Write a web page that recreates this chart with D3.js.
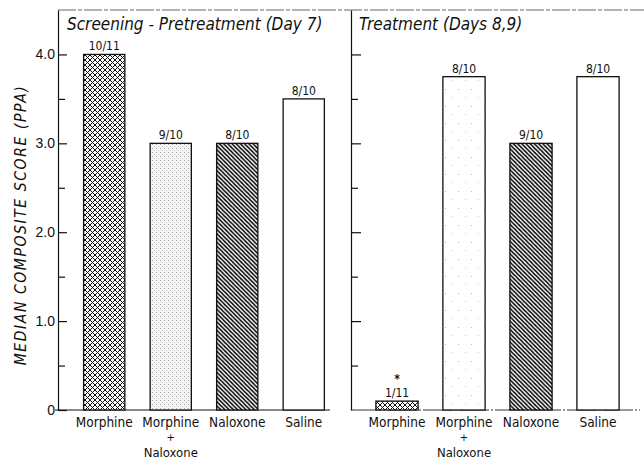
<!DOCTYPE html>
<html>
<head>
<meta charset="utf-8">
<script src="https://cdn.jsdelivr.net/npm/d3@7"></script>
<style>
  body { margin: 0; background: #fff; }
  svg { display: block; font-family: "Liberation Sans Narrow", "DejaVu Sans Condensed", "Liberation Sans", sans-serif; }
  .axis text { font-size: 14px; fill: #111; }
  .axis path, .axis line { stroke: #111; stroke-width: 1.2; }
</style>
</head>
<body>
<svg class="root"></svg>
<script>
var groups = ["Morphine", "Morphine + Naloxone", "Naloxone", "Saline"];
var pretreatment = [4.0, 3.0, 3.0, 3.5];
var treatment = [0.1, 3.75, 3.0, 3.75];
var pretreatRatio = ["10/11", "9/10", "8/10", "8/10"];
var treatRatio = ["1/11", "8/10", "9/10", "8/10"];
var majorTicks = [0, 1, 2, 3, 4];
var minorTicks = [0.5, 1.5, 2.5, 3.5];

var width = 644, height = 462;
var fills = ["url(#cross)", "url(#stipple)", "url(#hatch)", "#fff"];
var fillsRight = ["url(#cross)", "url(#stippleLight)", "url(#hatch)", "#fff"];

var svg = d3.select(".root").attr("width", width).attr("height", height);
var defs = svg.append("defs");

// crosshatch
var p = defs.append("pattern").attr("id", "cross").attr("patternUnits", "userSpaceOnUse")
    .attr("width", 5).attr("height", 5);
p.append("rect").attr("width", 5).attr("height", 5).attr("fill", "#fff");
p.append("path").attr("d", "M0,0L5,5M5,0L0,5").attr("stroke", "#111").attr("stroke-width", 1);

// diagonal hatch
p = defs.append("pattern").attr("id", "hatch").attr("patternUnits", "userSpaceOnUse")
    .attr("width", 4.2).attr("height", 4.2);
p.append("rect").attr("width", 4.2).attr("height", 4.2).attr("fill", "#fff");
p.append("path").attr("d", "M-1,-1L5.2,5.2M-1,3.2L1,5.2M3.2,-1L5.2,1").attr("stroke", "#000").attr("stroke-width", 1.5);

// stipple
p = defs.append("pattern").attr("id", "stipple").attr("patternUnits", "userSpaceOnUse")
    .attr("width", 4).attr("height", 4);
p.append("rect").attr("width", 4).attr("height", 4).attr("fill", "#f4f4f4");
p.append("rect").attr("x", 0).attr("y", 0).attr("width", 1).attr("height", 1).attr("fill", "#a6a6a6");
p.append("rect").attr("x", 2).attr("y", 2).attr("width", 1).attr("height", 1).attr("fill", "#c0c0c0");

p = defs.append("pattern").attr("id", "stippleLight").attr("patternUnits", "userSpaceOnUse")
    .attr("width", 13).attr("height", 17);
p.append("rect").attr("width", 13).attr("height", 17).attr("fill", "#fff");
p.append("rect").attr("x", 3).attr("y", 4).attr("width", 1).attr("height", 1).attr("fill", "#bbb");
p.append("rect").attr("x", 10).attr("y", 12).attr("width", 1).attr("height", 1).attr("fill", "#ccc");

var y = d3.scaleLinear().domain([0, 4.5]).range([410, 10]);

var xLeft = d3.scaleBand().domain(groups).range([71, 337]).paddingInner(0.38).paddingOuter(0.19);
var xRight = d3.scaleBand().domain(groups).range([363.5, 631.5]).paddingInner(0.37).paddingOuter(0.185);

var axisL = 58, axisR = 351;

// frame top
svg.append("line").attr("x1", axisL).attr("x2", 644).attr("y1", y(4.5)).attr("y2", y(4.5))
    .attr("stroke", "#666").attr("stroke-width", 1).attr("stroke-dasharray", "18,2,4,2");

// baselines
svg.append("line").attr("x1", axisL - 3).attr("x2", 330).attr("y1", y(0)).attr("y2", y(0))
    .attr("stroke", "#111").attr("stroke-width", 1.2);
svg.append("line").attr("x1", axisR).attr("x2", 640).attr("y1", y(0)).attr("y2", y(0))
    .attr("stroke", "#333").attr("stroke-width", 1).attr("stroke-dasharray", "30,2,2,2");

// left axis
svg.append("g").attr("class", "axis").attr("transform", "translate(" + axisL + ",0)")
    .call(d3.axisLeft(y).tickValues(majorTicks).tickSizeInner(-9).tickSizeOuter(0).tickPadding(3)
      .tickFormat(function(d) { return d === 0 ? "0" : d3.format(".1f")(d); }));
svg.append("g").attr("class", "axis").attr("transform", "translate(" + axisL + ",0)")
    .call(d3.axisLeft(y).tickValues(minorTicks).tickSizeInner(-7).tickSizeOuter(0).tickFormat(""))
    .select(".domain").remove();

// right panel axis
svg.append("g").attr("class", "axis").attr("transform", "translate(" + axisR + ",0)")
    .call(d3.axisRight(y).tickValues(majorTicks.slice(1)).tickSizeInner(10).tickSizeOuter(0).tickFormat(""));
svg.append("g").attr("class", "axis").attr("transform", "translate(" + axisR + ",0)")
    .call(d3.axisRight(y).tickValues(minorTicks).tickSizeInner(7).tickSizeOuter(0).tickFormat(""))
    .select(".domain").remove();

// y label
svg.append("text")
    .attr("transform", "translate(26," + 225 + ")rotate(-90)")
    .attr("text-anchor", "middle")
    .style("font-style", "italic")
    .style("font-size", "15.5px")
    .style("letter-spacing", "1.6px")
    .attr("fill", "#111")
    .text("MEDIAN COMPOSITE SCORE (PPA)");

// titles
svg.append("text").attr("x", 67).attr("y", 30)
    .style("font-style", "italic").style("font-size", "17px").attr("fill", "#111")
    .text("Screening - Pretreatment (Day 7)");
svg.append("text").attr("x", 359).attr("y", 30)
    .style("font-style", "italic").style("font-size", "17px").attr("fill", "#111")
    .text("Treatment (Days 8,9)");

function panel(x, values, ratios, fl, star) {
  var g = svg.append("g");
  g.selectAll(".bar")
      .data(values)
    .enter().append("rect")
      .attr("class", "bar")
      .attr("x", function(d, i) { return x(groups[i]); })
      .attr("y", function(d) { return y(d); })
      .attr("width", x.bandwidth())
      .attr("height", function(d) { return y(0) - y(d); })
      .attr("fill", function(d, i) { return fl[i]; })
      .attr("stroke", "#111")
      .attr("stroke-width", 1.3);

  g.selectAll(".ratio")
      .data(values)
    .enter().append("text")
      .attr("class", "ratio")
      .attr("x", function(d, i) { return x(groups[i]) + x.bandwidth() / 2; })
      .attr("y", function(d) { return y(d) - 4; })
      .attr("text-anchor", "middle")
      .style("font-size", "12px")
      .attr("fill", "#111")
      .text(function(d, i) { return ratios[i]; });

  if (star) {
    g.append("text")
      .attr("x", x(groups[0]) + x.bandwidth() / 2)
      .attr("y", y(values[0]) - 18)
      .attr("text-anchor", "middle")
      .style("font-size", "12px")
      .style("font-weight", "bold")
      .attr("fill", "#111")
      .text("*");
  }

  // category labels, "a + b" split on three lines
  groups.forEach(function(d) {
    var cx = x(d) + x.bandwidth() / 2;
    var parts = d.split(" + ");
    g.append("text").attr("x", cx).attr("y", 427).attr("text-anchor", "middle")
        .style("font-size", "13.5px").attr("fill", "#111").text(parts[0]);
    if (parts.length > 1) {
      g.append("text").attr("x", cx).attr("y", 441).attr("text-anchor", "middle")
          .style("font-size", "11px").attr("fill", "#111").text("+");
      g.append("text").attr("x", cx).attr("y", 457).attr("text-anchor", "middle")
          .style("font-size", "13px").attr("fill", "#111").text(parts[1]);
    }
  });
}

panel(xLeft, pretreatment, pretreatRatio, fills, false);
panel(xRight, treatment, treatRatio, fillsRight, true);
</script>
</body>
</html>
